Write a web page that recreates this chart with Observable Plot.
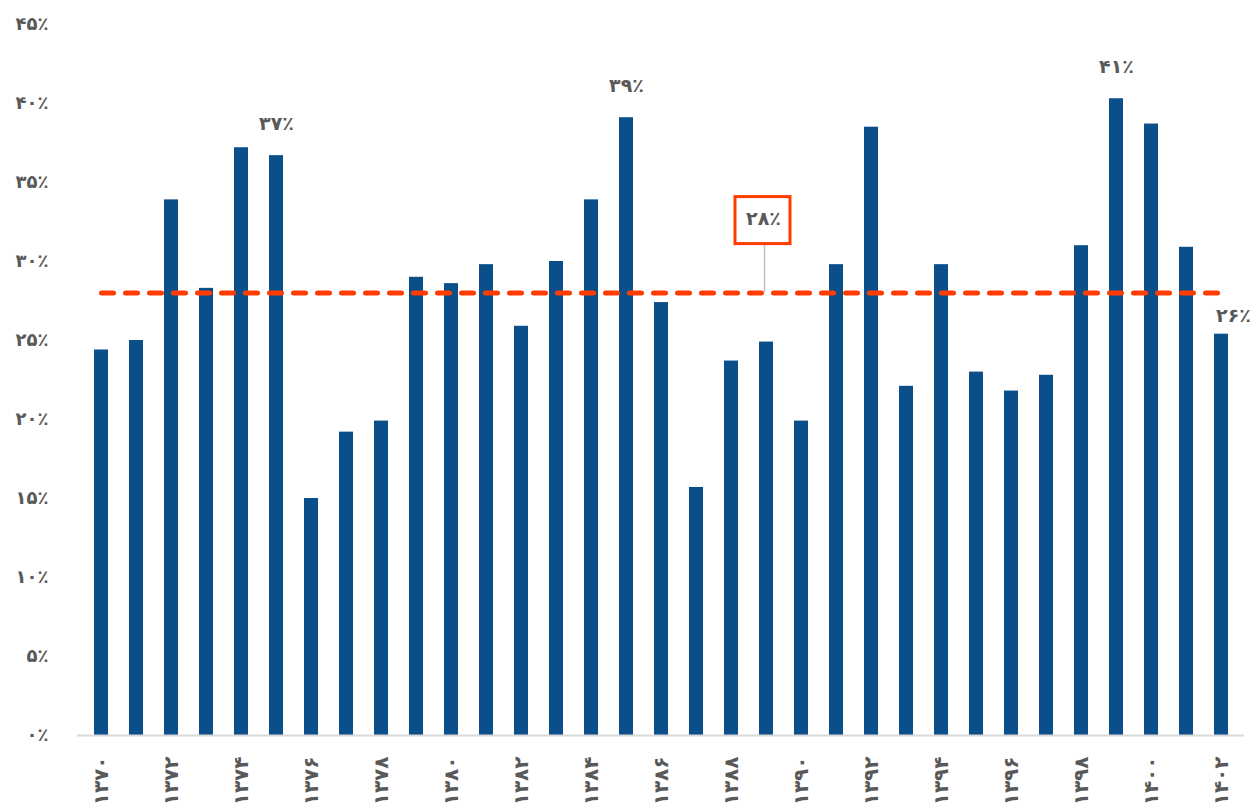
<!DOCTYPE html>
<html>
<head>
<meta charset="utf-8">
<script src="https://cdn.jsdelivr.net/npm/d3@7"></script>
<script src="https://cdn.jsdelivr.net/npm/@observablehq/plot@0.6"></script>
<style>
  html, body { margin: 0; padding: 0; background: #ffffff; }
</style>
</head>
<body>
<div id="chart"></div>
<script>
// ---- data ----
const years = ["1370","1371","1372","1373","1374","1375","1376","1377","1378","1379",
               "1380","1381","1382","1383","1384","1385","1386","1387","1388","1389",
               "1390","1391","1392","1393","1394","1395","1396","1397","1398","1399",
               "1400","1401","1402"];
const values = [24.4, 25.0, 33.9, 28.3, 37.2, 36.7, 15.0, 19.2, 19.9, 29.0,
                28.6, 29.8, 25.9, 30.0, 33.9, 39.1, 27.4, 15.7, 23.7, 24.9,
                19.9, 29.8, 38.5, 22.1, 29.8, 23.0, 21.8, 22.8, 31.0, 40.3,
                38.7, 30.9, 25.4];
const average = 28;
const yTicks = [0, 5, 10, 15, 20, 25, 30, 35, 40, 45];
const xTickYears = years.filter((d, i) => i % 2 === 0);
const peakYears = ["1375", "1385", "1399"];
const peakLabels = ["۳۷٪", "۳۹٪", "۴۱٪"];
const lastYears = ["1402"];
const lastLabels = ["۲۶٪"];
const calloutYears = ["1389"];
const calloutLabels = ["۲۸٪"];

// ---- helpers ----
const faDigits = "۰۱۲۳۴۵۶۷۸۹";
const toFa = s => String(s).replace(/\d/g, d => faDigits[+d]);
const valueOf = y => values[years.indexOf(y)];

const rows = years.map((y, i) => ({year: y, value: values[i]}));
const peaks = peakYears.map((y, i) => ({year: y, value: valueOf(y), label: peakLabels[i]}));
const lasts = lastYears.map((y, i) => ({year: y, value: valueOf(y), label: lastLabels[i]}));
const callouts = calloutYears.map((y, i) => ({year: y, value: average, label: calloutLabels[i]}));

const blue = "#0a4f8a";
const red = "#ff3c00";
const textColor = "#595959";
const font = "'DejaVu Sans', sans-serif";

const chart = Plot.plot({
  width: 1259,
  height: 811,
  marginLeft: 77,
  marginRight: 15,
  marginTop: 24,
  marginBottom: 76,
  style: {fontFamily: font, fontSize: "17px", fontWeight: "bold", color: textColor, background: "#ffffff"},
  x: {type: "band", domain: years, paddingInner: 0.6, paddingOuter: 0.3, label: null},
  y: {domain: [0, 45], label: null},
  marks: [
    Plot.axisY({ticks: yTicks, tickSize: 0, tickPadding: 29, tickFormat: d => toFa(d) + "٪", label: null, fontSize: 18, fontWeight: "bold", fill: textColor}),
    Plot.axisX({ticks: xTickYears, tickSize: 0, tickPadding: 21, tickRotate: -90, tickFormat: toFa, label: null, fontSize: 20, fontWeight: "bold", fill: textColor}),
    Plot.barY(rows, {x: "year", y: "value", fill: blue}),
    Plot.ruleY([0], {stroke: "#d9d9d9", strokeWidth: 2}),
    Plot.lineY(rows, {x: "year", y: () => average, stroke: red, strokeWidth: 5, strokeDasharray: "12,12", strokeLinecap: "round"}),
    // callout leader line and box
    Plot.ruleX(callouts, {x: "year", y1: "value", y2: "value", insetTop: -49, dx: -2, stroke: "#bfbfbf", strokeWidth: 1.5}),
    Plot.barY(callouts, {x: "year", y1: "value", y2: "value", insetTop: -96, insetBottom: 49, insetLeft: -24, insetRight: -17, fill: "#ffffff", stroke: red, strokeWidth: 3}),
    Plot.text(callouts, {x: "year", y: "value", text: "label", dy: -74, dx: -3, fontSize: 19, fontWeight: "bold", fill: textColor}),
    // value labels
    Plot.text(peaks, {x: "year", y: "value", text: "label", dy: -32, fontSize: 19, fontWeight: "bold", fill: textColor}),
    Plot.text(lasts, {x: "year", y: "value", text: "label", dy: -18, dx: 12, fontSize: 19, fontWeight: "bold", fill: textColor})
  ]
});
document.getElementById("chart").appendChild(chart);
</script>
</body>
</html>
